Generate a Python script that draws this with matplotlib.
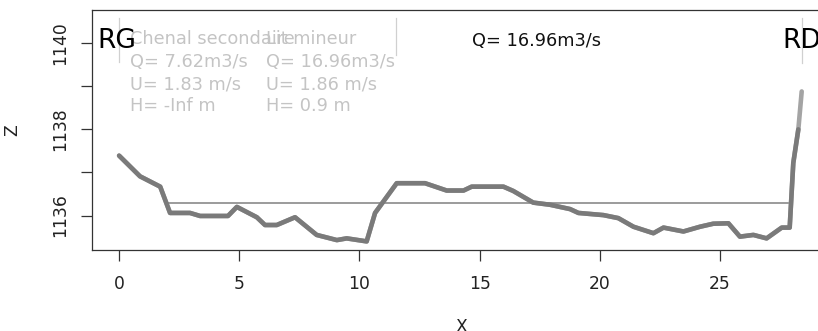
import matplotlib
matplotlib.use("Agg")
import matplotlib.pyplot as plt

# profil en travers (lit)
x = [0, 0.87, 1.71, 2.12, 2.95, 3.37, 4.53, 4.9, 5.73, 6.07, 6.56, 7.32, 8.22,
     9.06, 9.47, 10.3, 10.65, 11.55, 12.73, 13.63, 14.33, 14.67, 15.99, 16.4,
     17.23, 17.93, 18.76, 19.11, 20.15, 20.77, 21.4, 22.23, 22.65, 23.48, 24.17,
     24.72, 25.35, 25.83, 26.39, 26.94, 27.57, 27.9, 28.05, 28.26, 28.4]
z = [1137.39, 1136.91, 1136.67, 1136.06, 1136.06, 1135.99, 1135.99, 1136.2,
     1135.96, 1135.78, 1135.78, 1135.96, 1135.55, 1135.43, 1135.47, 1135.40,
     1136.06, 1136.75, 1136.75, 1136.58, 1136.58, 1136.67, 1136.67, 1136.57,
     1136.30, 1136.25, 1136.15, 1136.06, 1136.01, 1135.94, 1135.74, 1135.59,
     1135.72, 1135.63, 1135.74, 1135.81, 1135.82, 1135.51, 1135.55, 1135.47,
     1135.72, 1135.72, 1137.22, 1138.0, 1138.88]

# ligne d'eau
x_eau = [1.98, 27.84]
z_eau = 1136.3

# limites des lits
x_lim = [0, 11.52, 28.4]
z_lim_bas = [1139.56, 1139.73, 1139.54]
z_lim_haut = 1140.59

Q_total = "Q= 16.96m3/s"
col1 = ["Chenal secondaire", "Q= 7.62m3/s", "U= 1.83 m/s", "H= -Inf m"]
col2 = ["Lit mineur", "Q= 16.96m3/s", "U= 1.86 m/s", "H= 0.9 m"]
rows_z = [1140.10, 1139.56, 1139.05, 1138.54]

fig = plt.figure(figsize=(8.18, 3.31), dpi=100)
ax = fig.add_axes([0.1121, 0.2447, 0.905, 0.7251])

ax.plot(x, z, color="#a4a4a4", lw=3.3, solid_capstyle="round", zorder=2)
ax.plot(x[:-1], z[:-1], color="#7a7a7a", lw=3.3, solid_capstyle="round",
        solid_joinstyle="round", zorder=3)
ax.plot(x_eau, [z_eau, z_eau], color="#8a8a8a", lw=1.2, zorder=2)

for xv, zb in zip(x_lim, z_lim_bas):
    ax.plot([xv, xv], [zb, z_lim_haut], color="#d0d0d0", lw=0.9, zorder=1)

gris = "#c4c4c4"
for t, zz in zip(col1, rows_z):
    ax.text(0.46, zz, t, color=gris, fontsize=12.8, ha="left", va="center")
for t, zz in zip(col2, rows_z):
    ax.text(6.1, zz, t, color=gris, fontsize=12.8, ha="left", va="center")

ax.text(x[0] - 0.1, 1140.05, "RG", fontsize=19, ha="center", va="center", color="black")
ax.text(x[-1], 1140.05, "RD", fontsize=19, ha="center", va="center", color="black")
ax.text(17.35, 1140.06, Q_total, fontsize=12.8, ha="center", va="center", color="#111111")

ax.set_xlim(-1.14, 29.66)
ax.set_ylim(1135.20, 1140.77)
ax.set_xticks([0, 5, 10, 15, 20, 25])
ax.set_yticks([1136, 1137, 1138, 1139, 1140])
ax.set_yticklabels(["1136", "", "1138", "", "1140"], rotation=90, va="center")

for s in ax.spines.values():
    s.set_color("#333333")
    s.set_linewidth(0.9)
ax.tick_params(length=8, width=0.9, color="#333333", labelsize=12.3,
               labelcolor="#222222")
ax.tick_params(axis="x", pad=10)
ax.tick_params(axis="y", pad=8)

ax.set_xlabel("X", fontsize=12.3, color="#222222", labelpad=18)
ax.set_ylabel("Z", fontsize=12.3, color="#222222", labelpad=22)

fig.savefig("out.png", dpi=100)
